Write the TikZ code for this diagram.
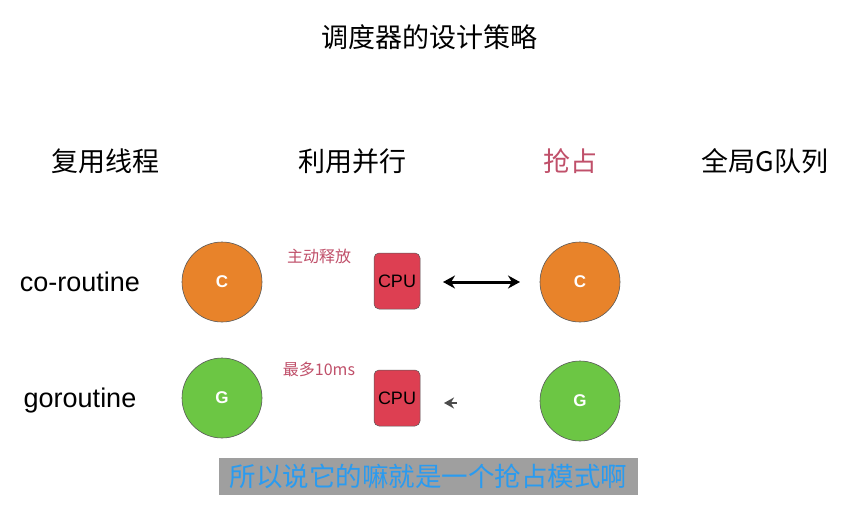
\documentclass[tikz,border=0pt]{standalone}
\usepackage{fontspec}
\setmainfont{Liberation Sans}
\newfontfamily\cjk{Noto Sans CJK SC}
\usetikzlibrary{arrows.meta}
\definecolor{pinkred}{HTML}{C0506A}
\definecolor{orangeC}{HTML}{E8832A}
\definecolor{greenG}{HTML}{6CC644}
\definecolor{cpured}{HTML}{DD3F52}
\definecolor{subblue}{HTML}{2A9BF0}
\begin{document}
\begin{tikzpicture}[x=1pt,y=-1pt,
  circ/.style={circle,draw=gray!70!black,line width=0.6pt,minimum size=80pt,inner sep=0pt,text=white,font=\bfseries\fontsize{17}{17}\selectfont},
  cpu/.style={rectangle,rounded corners=5pt,draw=gray!70!black,line width=0.5pt,fill=cpured,minimum width=46pt,minimum height=56pt,font=\fontsize{18}{18}\selectfont},
  head/.style={font=\cjk\fontsize{27}{27}\selectfont},
  row/.style={font=\fontsize{27}{27}\selectfont},
  lab/.style={font=\cjk\fontsize{16}{16}\selectfont,text=pinkred}]
\useasboundingbox (0,0) rectangle (859,504);
\fill[white] (0,0) rectangle (859,504);
\node[head] (title) at (429,37) {调度器的设计策略};
\node[head] (h1) at (105,161) {复用线程};
\node[head] (h2) at (352,161) {利用并行};
\node[head,text=pinkred] (h3) at (570,161) {抢占};
\node[head] (h4) at (765,161) {全局G队列};
\node[row] (r1) at (80,282) {co-routine};
\node[row] (r2) at (80,401) {goroutine};
\node[circ,fill=orangeC] (c1) at (222,282) {C};
\node[circ,fill=orangeC] (c2) at (580,282) {C};
\node[circ,fill=greenG] (g1) at (222,398) {G};
\node[circ,fill=greenG] (g2) at (580,401) {G};
\node[cpu] (cpu1) at (397,281) {CPU};
\node[cpu] (cpu2) at (397,398) {CPU};
\node[lab] (l1) at (319,256) {主动释放};
\node[lab] (l2) at (319,369) {最多10ms};
\coordinate (a1) at (443,282);
\coordinate (a2) at (520,282);
\draw[line width=3pt,{Stealth[length=12pt,width=13pt]}-{Stealth[length=12pt,width=13pt]}] (a1) -- (a2);
\coordinate (b1) at (444,403);
\coordinate (b2) at (457,403);
\draw[line width=2pt,black!70,{Stealth[length=10pt,width=11pt]}-] (b1) -- (b2);
\node[fill=gray!75,minimum width=419pt,minimum height=37pt,inner sep=0pt,font=\cjk\fontsize{26.5}{26.5}\selectfont,text=subblue] (sub) at (428.5,476.5) {所以说它的嘛就是一个抢占模式啊};
\end{tikzpicture}
\end{document}
